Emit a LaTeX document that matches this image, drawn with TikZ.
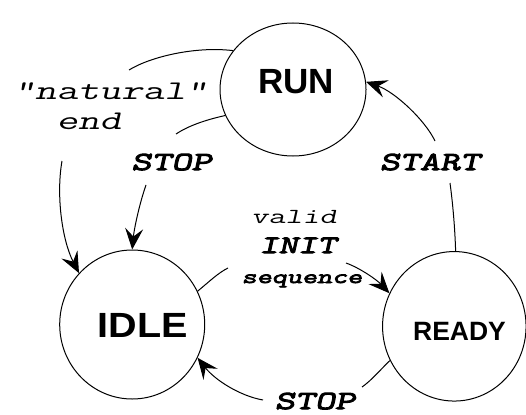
\documentclass[tikz,border=0pt]{standalone}
\usepackage{fontspec}
\usepackage{graphicx}
\usetikzlibrary{shapes.geometric,arrows.meta}
\newfontfamily\statefont{Liberation Sans}
\newfontfamily\labfont[FakeStretch=1.55,FakeSlant=0.22]{Latin Modern Mono}
\newfontfamily\blabfont[FakeStretch=1.5,FakeSlant=0.22,FakeBold=4]{Latin Modern Mono}
\begin{document}
\begin{tikzpicture}[x=1pt,y=-1pt,
  state/.style={ellipse, draw, line width=1pt, inner sep=0pt},
  stname/.style={anchor=base, inner sep=0pt},
  lab/.style={anchor=base, inner sep=0pt},
  conn/.style={line width=1pt},
  arr/.style={conn, -{Stealth[length=21pt,width=18pt,inset=8pt]}}]
\useasboundingbox (0,0) rectangle (526,414);
% states
\node[state, minimum width=146pt, minimum height=133pt] (RUN) at (293,89.5) {};
\node[state, minimum width=145pt, minimum height=149pt] (IDLE) at (132.2,324.5) {};
\node[state, minimum width=143.5pt, minimum height=149.5pt] (READY) at (454.3,326.3) {};
\node[stname, font=\statefont\bfseries\fontsize{35}{35}\selectfont] (RUNt) at (296,94) {RUN};
\node[stname, font=\statefont\bfseries\fontsize{35}{35}\selectfont] (IDLEt) at (142.5,337) {\scalebox{1.13}[1]{IDLE}};
\node[stname, font=\statefont\bfseries\fontsize{26.5}{26.5}\selectfont] (READYt) at (459.5,340) {READY};
% labels
\node[lab, font=\labfont\fontsize{27}{27}\selectfont] (nat) at (110.5,100) {"natural"};
\node[lab, font=\labfont\fontsize{27}{27}\selectfont] (nend) at (89,130) {end};
\node[lab, font=\blabfont\fontsize{26}{26}\selectfont] (stop1) at (171.5,170) {STOP};
\node[lab, font=\blabfont\fontsize{26}{26}\selectfont] (start) at (430,170) {START};
\node[lab, font=\labfont\fontsize{21.5}{21.5}\selectfont] (valid) at (294,223) {valid};
\node[lab, font=\blabfont\fontsize{25}{25}\selectfont] (init) at (298,253) {INIT};
\node[lab, font=\blabfont\fontsize{19.5}{19.5}\selectfont] (seq) at (302,283) {sequence};
\node[lab, font=\blabfont\fontsize{26}{26}\selectfont] (stop2) at (315,409) {STOP};
% free ends of interrupted connectors
\coordinate (a1) at (129,70);
\coordinate (a2) at (62,161);
\coordinate (b1) at (176,134);
\coordinate (b2) at (146,185);
\coordinate (c1) at (228,268);
\coordinate (c2) at (346,263);
\coordinate (d1) at (450,183);
\coordinate (d2) at (435,141);
\coordinate (e1) at (362,387);
\coordinate (e2) at (263,400);
% "natural" end: RUN -> IDLE
\draw[conn] (RUN.147) .. controls (195,46) and (150,57) .. (a1);
\draw[arr] (a2) .. controls (56,195) and (62,240) .. (IDLE.136);
% STOP: RUN -> IDLE
\draw[conn] (RUN.201) .. controls (205,120) and (188,126) .. (b1);
\draw[arr] (b2) .. controls (139,205) and (134,230) .. (IDLE.90);
% valid INIT sequence: IDLE -> READY
\draw[conn] (IDLE.27) .. controls (210,281) and (218,273) .. (c1);
\draw[arr] (c2) .. controls (360,268) and (377,280) .. (READY.153);
% START: READY -> RUN
\draw[conn] (READY.89) .. controls (455,230) and (453,205) .. (d1);
\draw[arr] (d2) .. controls (425,120) and (395,92) .. (RUN.6);
% STOP: READY -> IDLE
\draw[conn] (READY.208) .. controls (380,370) and (372,380) .. (e1);
\draw[arr] (e2) .. controls (240,396) and (215,380) .. (IDLE.333);
\end{tikzpicture}
\end{document}
